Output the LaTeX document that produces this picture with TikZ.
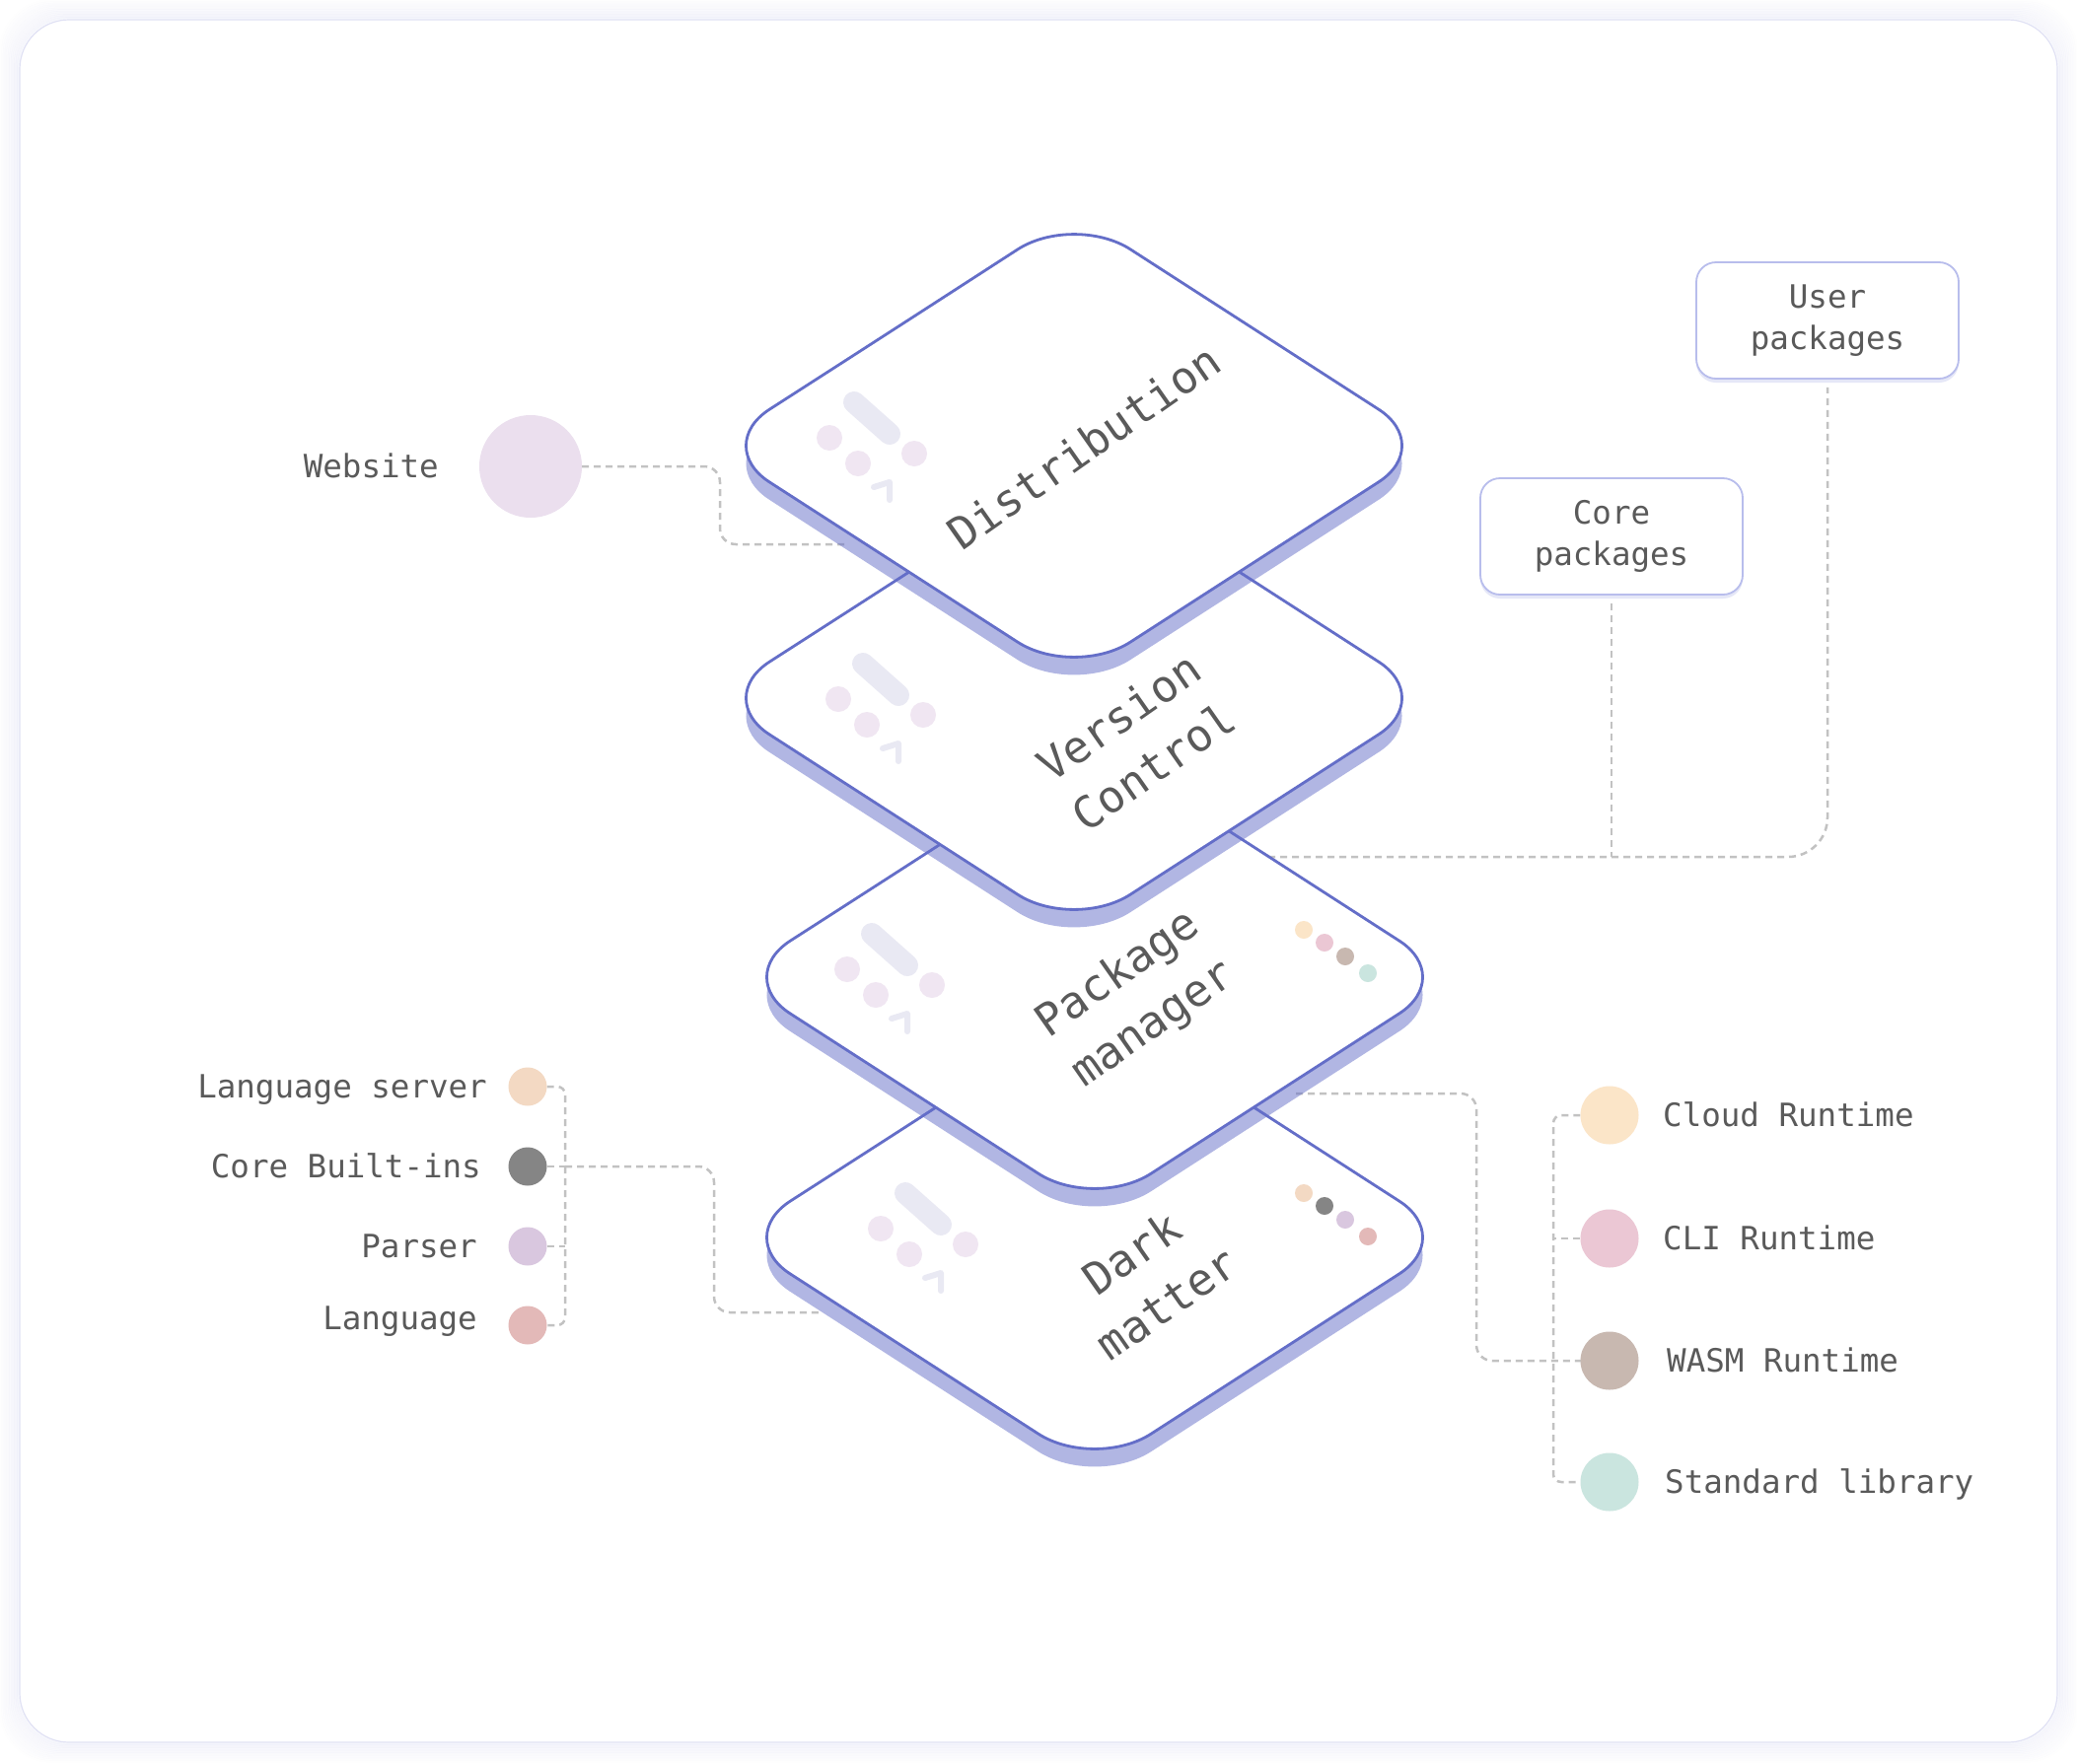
\documentclass[tikz,border=0pt]{standalone}
\usepackage{fontspec}
\newfontfamily\mono{DejaVu Sans Mono}
\usetikzlibrary{shadows}
\pgfdeclarelayer{back}\pgfdeclarelayer{mid}\pgfsetlayers{back,mid,main}
\definecolor{edgecol}{HTML}{646EC8}
\definecolor{txtcol}{HTML}{5A5A5A}
\definecolor{conncol}{HTML}{C2C2C2}
\definecolor{pillcol}{HTML}{E9E9F3}
\definecolor{dotcol}{HTML}{F0E6F2}
\definecolor{webcol}{HTML}{EBDFEE}
\definecolor{peachcol}{HTML}{F3D9C3}
\definecolor{darkcol}{HTML}{858585}
\definecolor{lilaccol}{HTML}{D9C7DF}
\definecolor{rosecol}{HTML}{E3B9B8}
\definecolor{cloudcol}{HTML}{FBE5C8}
\definecolor{clicol}{HTML}{EBC7D4}
\definecolor{wasmcol}{HTML}{C8B8B0}
\definecolor{mintcol}{HTML}{CAE5DF}
\definecolor{boxedge}{HTML}{B8BDEC}
\definecolor{glowcol}{HTML}{C4C6EC}
\definecolor{cardline}{HTML}{E0E1F4}
\definecolor{boxglow}{HTML}{DFE1F6}
\newcommand\slab[2]{%
 \begin{scope}[shift={(#1,#2)}]
  \fill[edgecol, opacity=.5, rounded corners=68pt]
    (-182.5,-100) -- (0,-218) -- (366,18) -- (0,254) -- (-366,18) -- cycle;
  \filldraw[fill=white, draw=edgecol, line width=2.8pt, rounded corners=68pt]
    (-182.5,-118) -- (0,-236) -- (366,0) -- (0,236) -- (-366,0) -- cycle;
 \end{scope}}
\newcommand\deco[2]{%
 \begin{scope}[shift={(#1,#2)}]
  \draw[pillcol, line width=22pt, line cap=round] (-18,-16) -- (18,16);
  \fill[dotcol] (-43,20) circle (13pt) (-14,46) circle (13pt) (43,36) circle (13pt);
  \draw[pillcol, line width=6pt, line cap=round, line join=round] (2,70) -- (18,65) -- (18,83);
 \end{scope}}
\begin{document}
\begin{tikzpicture}[x=1pt,y=-1pt,
  lbl/.style={font={\mono\fontsize{32.5}{42}\selectfont}, text=txtcol, inner sep=0pt},
  ttl/.style={font={\mono\fontsize{45}{62}\selectfont}, text=txtcol, align=center, rotate=35, inner sep=0pt},
  conn/.style={draw=conncol, line width=2.5pt, dash pattern=on 7pt off 5pt},
  dotnode/.style={circle, inner sep=0pt, minimum size=#1},
  pbox/.style={draw=boxedge, line width=1.8pt, fill=white, rounded corners=20pt,
    minimum width=266pt, minimum height=118pt, align=center,
    font={\mono\fontsize{32.5}{42}\selectfont}, text=txtcol,
    drop shadow={shadow xshift=0pt, shadow yshift=-4pt, fill=boxglow, opacity=.8}}]
\useasboundingbox (0,0) rectangle (2106,1788);
\begin{pgfonlayer}{back}
\fill[white] (0,0) rectangle (2106,1788);
\foreach \i in {1,...,12}{
  \pgfmathsetmacro\op{0.17-0.013*\i}
  \draw[glowcol, line width=2pt, opacity=\op, rounded corners=50pt] ({20-1.6*\i},{20-1.6*\i}) rectangle ({2086+1.6*\i},{1767+1.6*\i});
}
\filldraw[fill=white, draw=cardline, line width=1.2pt, rounded corners=50pt] (20,20) rectangle (2086,1767);
\end{pgfonlayer}

% website
\node[dotnode=104pt, fill=webcol] (web) at (538,473) {};
\node[lbl, anchor=base east] (webl) at (445,484) {Website};

% left legend
\node[dotnode=39pt, fill=peachcol] (ls) at (535,1102) {};
\node[dotnode=39pt, fill=darkcol] (cb) at (535,1183) {};
\node[dotnode=39pt, fill=lilaccol] (pa) at (535,1264) {};
\node[dotnode=39pt, fill=rosecol] (la) at (535,1344) {};
\node[lbl, anchor=base east] (lsl) at (494,1113) {Language server};
\node[lbl, anchor=base east] (cbl) at (488,1194) {Core Built-ins};
\node[lbl, anchor=base east] (pal) at (484,1275) {Parser};
\node[lbl, anchor=base east] (lal) at (484,1348) {Language};

% right legend
\node[dotnode=59pt, fill=cloudcol] (cl) at (1632,1131) {};
\node[dotnode=59pt, fill=clicol] (ci) at (1632,1256) {};
\node[dotnode=59pt, fill=wasmcol] (wa) at (1632,1380) {};
\node[dotnode=59pt, fill=mintcol] (st) at (1632,1503) {};
\node[lbl, anchor=base west] (cll) at (1686,1142) {Cloud Runtime};
\node[lbl, anchor=base west] (cil) at (1686,1267) {CLI Runtime};
\node[lbl, anchor=base west] (wal) at (1690,1391) {WASM Runtime};
\node[lbl, anchor=base west] (stl) at (1688,1514) {Standard library};

% boxes
\node[pbox] (user) at (1853,325) {User\\packages};
\node[pbox] (core) at (1634,544) {Core\\packages};

% slabs (bottom to top)
\slab{1110}{1255}
\deco{936}{1226}
\fill[peachcol] (1322,1210) circle (9pt);
\fill[darkcol] (1343,1223) circle (9pt);
\fill[lilaccol] (1364,1237) circle (9pt);
\fill[rosecol] (1387,1254) circle (9pt);
\node[ttl] (t4) at (1165,1296) {Dark\\matter};

\slab{1110}{991}
\deco{902}{963}
\fill[cloudcol] (1322,943) circle (9pt);
\fill[clicol] (1343,956) circle (9pt);
\fill[wasmcol] (1364,970) circle (9pt);
\fill[mintcol] (1387,987) circle (9pt);
\node[ttl] (t3) at (1152,1014) {Package\\manager};

\slab{1089}{708}
\deco{893}{689}
\node[ttl] (t2) at (1152,752) {Version\\Control};

\slab{1089}{452}
\deco{884}{424}
\node[ttl] (t1) at (1099,453) {Distribution};

% connector anchor points (at the slab shadows' edges)
\coordinate (d1in) at (856,552);
\coordinate (d4in) at (834,1331);
\coordinate (d3r) at (1314,1109);
\coordinate (d3t) at (1250,869);
\coordinate (lj) at (573,1183);
\coordinate (cj) at (1634,869);

\begin{pgfonlayer}{mid}
\draw[conn, rounded corners=16pt] (web.east) -- (730,473) -- (730,552) -- (d1in);
\draw[conn, rounded corners=8pt] (ls.east) -- (573,1102) -- (573,1344) -- (la.east);
\draw[conn] (cb.east) -- (lj);
\draw[conn] (pa.east) -- (573,1264);
\draw[conn, rounded corners=16pt] (lj) -- (724,1183) -- (724,1331) -- (d4in);
\draw[conn, rounded corners=8pt] (cl.west) -- (1575,1131) -- (1575,1503) -- (st.west);
\draw[conn] (ci.west) -- (1575,1256);
\draw[conn, rounded corners=16pt] (d3r) -- (1497,1109) -- (1497,1380) -- (wa.center);
\draw[conn, rounded corners=40pt] (d3t) -- (1853,869) -- ([yshift=-8pt]user.south);
\draw[conn] ([yshift=-8pt]core.south) -- (cj);
\end{pgfonlayer}
\end{tikzpicture}
\end{document}
